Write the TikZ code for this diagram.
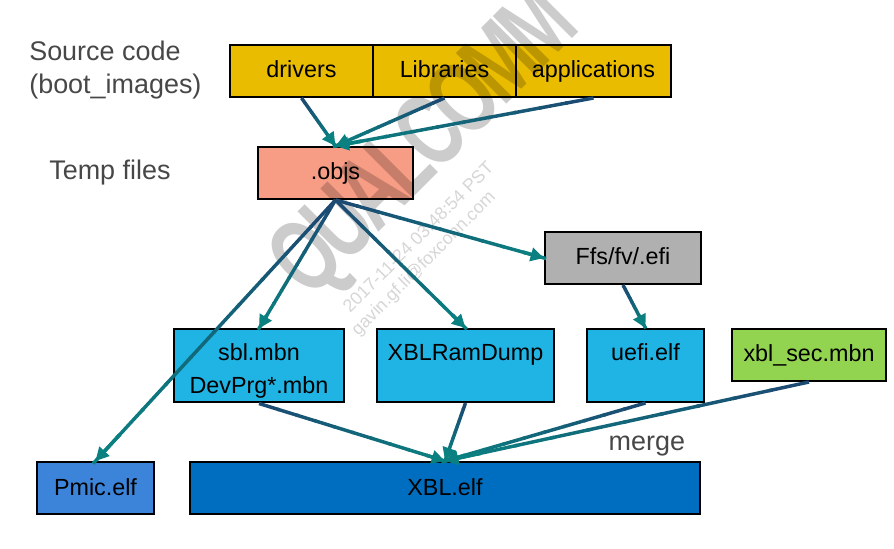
\documentclass[tikz,border=0pt]{standalone}
\usepackage{fontspec}
\setmainfont{Liberation Sans}
\newfontfamily\brandfont[LetterSpace=-8]{Liberation Sans Bold}
\usetikzlibrary{calc,arrows.meta}
\definecolor{linkdark}{HTML}{1B4A72}
\definecolor{linkteal}{HTML}{0A8080}
\tikzset{
    box/.style={draw=black,line width=1.5pt,inner sep=0pt,text=black,font=\fontsize{17.5}{25}\selectfont,align=center,anchor=center},
    midtext/.style={text height=14pt,text depth=3.5pt},
    toptext/.style={text height=14pt,text depth=20.8pt},
    caption/.style={text=black!72,font=\fontsize{20.2}{24.75}\selectfont,align=left,anchor=west},
    mark text/.style={text=black,opacity=.2,font=\brandfont\fontsize{78}{78}\selectfont,rotate=45,xscale=.68,transform shape},
    stamp text/.style={text=black,opacity=.16,font=\fontsize{13.4}{15}\selectfont,rotate=45},
}
% link from dark to teal, tip drawn on the last piece
\newcommand{\linkfrom}[2]{
    \foreach \t in {0,...,9}
    {
        \pgfmathsetmacro{\mixval}{\t*11}
        \draw[line width=2.6pt,color=linkteal!\mixval!linkdark]
            ($(#1)!{\t*0.1}!(#2)$) -- ($(#1)!{(\t+1)*0.1+0.01}!(#2)$);
    }
    \draw[line width=2.6pt,linkteal,-{Triangle[length=10pt,width=10pt]}]
        ($(#1)!0.9!(#2)$) -- (#2);
}
\begin{document}
\begin{tikzpicture}[x=0.75pt,y=-0.75pt]
    \useasboundingbox (0,0) rectangle (894,549);

    \node[box,midtext,fill={rgb,255:red,234;green,188;blue,0},minimum width=107.25pt,minimum height=39pt] (drivers) at (301.5,71) {drivers};
    \node[box,midtext,fill={rgb,255:red,234;green,188;blue,0},minimum width=107.25pt,minimum height=39pt] (libraries) at (444.5,71) {Libraries};
    \node[box,midtext,fill={rgb,255:red,234;green,188;blue,0},minimum width=116.25pt,minimum height=39pt] (applications) at (593.5,71) {applications};
    \node[box,midtext,fill={rgb,255:red,248;green,157;blue,133},minimum width=116.25pt,minimum height=39pt] (objs) at (335.5,173) {.objs};
    \node[box,midtext,fill={rgb,255:red,176;green,176;blue,176},minimum width=117pt,minimum height=39pt] (ffs) at (623,258) {Ffs/fv/.efi};
    \node[box,fill={rgb,255:red,32;green,180;blue,228},minimum width=127.5pt,minimum height=54.75pt] (sbl) at (259,366) {\rule{0pt}{20pt}sbl.mbn\\DevPrg*.mbn};
    \node[box,toptext,fill={rgb,255:red,32;green,180;blue,228},minimum width=132.75pt,minimum height=54.75pt] (ramdump) at (465.5,365.5) {XBLRamDump};
    \node[box,toptext,fill={rgb,255:red,32;green,180;blue,228},minimum width=87.75pt,minimum height=54.75pt] (uefi) at (645.5,365.5) {uefi.elf};
    \node[box,midtext,fill={rgb,255:red,146;green,212;blue,80},minimum width=115.5pt,minimum height=39pt] (xblsec) at (809,355) {xbl\_sec.mbn};
    \node[box,midtext,fill={rgb,255:red,60;green,132;blue,218},minimum width=87.75pt,minimum height=39pt] (pmic) at (95.5,488) {Pmic.elf};
    \node[box,midtext,fill={rgb,255:red,0;green,110;blue,192},minimum width=382.5pt,minimum height=39pt] (xbl) at (445,488) {XBL.elf};

    \node[caption] (source) at (24.6,70) {Source code\\(boot\_images)};
    \node[caption] (temp) at (44.6,173) {Temp files};
    \node[caption] (merge) at (604,446) {merge};

    \node[mark text] (brand) at (428,146) {QUALCOMM};
    \node[stamp text] (stamp) at (418,237) {2017-11-24 03:48:54 PST};
    \node[stamp text] (mail) at (424,264) {gavin.gf.li@foxconn.com};

    \linkfrom{drivers.south}{objs.north}
    \linkfrom{libraries.south}{objs.north}
    \linkfrom{applications.south}{objs.north}
    \linkfrom{objs.south}{pmic.north}
    \linkfrom{objs.south}{sbl.north}
    \linkfrom{objs.south}{ramdump.north}
    \linkfrom{objs.south}{ffs.west}
    \linkfrom{ffs.south}{uefi.north}
    \linkfrom{sbl.south}{xbl.north}
    \linkfrom{ramdump.south}{xbl.north}
    \linkfrom{uefi.south}{xbl.north}
    \linkfrom{xblsec.south}{xbl.north}
\end{tikzpicture}
\end{document}
